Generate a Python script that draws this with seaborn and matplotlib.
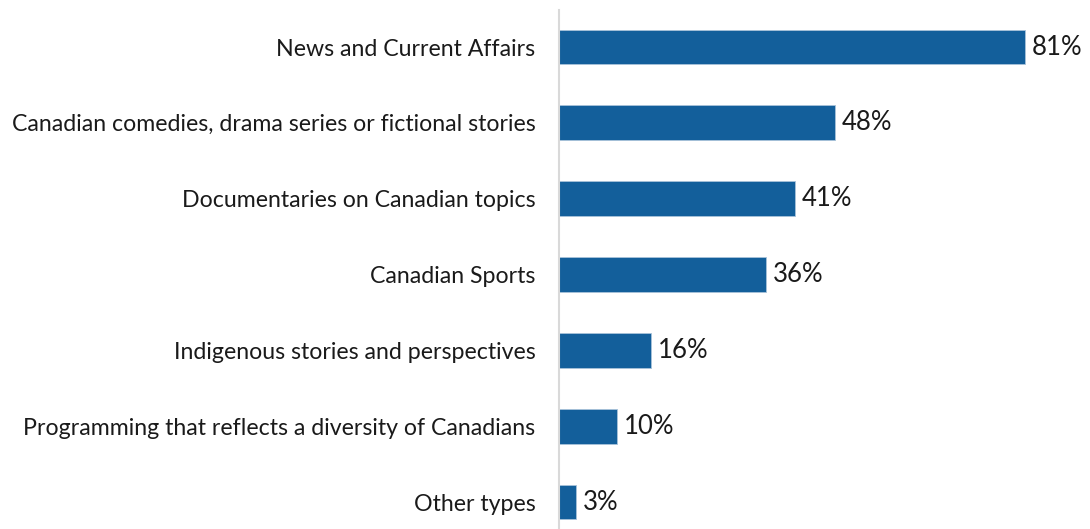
import matplotlib
matplotlib.use("Agg")
import matplotlib.pyplot as plt
import seaborn as sns
import pandas as pd

categories = [
    "News and Current Affairs",
    "Canadian comedies, drama series or fictional stories",
    "Documentaries on Canadian topics",
    "Canadian Sports",
    "Indigenous stories and perspectives",
    "Programming that reflects a diversity of Canadians",
    "Other types",
]
values = [81, 48, 41, 36, 16, 10, 3]

df = pd.DataFrame({"category": categories, "value": values})

sns.set_style("white")
plt.rcParams["font.family"] = ["Lato", "DejaVu Sans"]

fig = plt.figure(figsize=(10.9, 5.29), dpi=100)
ax = fig.add_axes([559 / 1090, 0.0, 531 / 1090, 519 / 529])

bar_color = "#135F9B"
sns.barplot(data=df, x="value", y="category", orient="h", color=bar_color,
            width=0.46, saturation=1, ax=ax, edgecolor="#a9c3da", linewidth=0.6)

ax.set_xlim(0, 531 / 5.753)
ax.set_ylim(6.356, -0.488)
ax.set_xlabel("")
ax.set_ylabel("")
ax.set_xticks([])
ax.tick_params(axis="y", length=0, pad=17, labelsize=16.7, labelcolor="#1a1a1a")

for s in ["top", "right", "bottom"]:
    ax.spines[s].set_visible(False)
ax.spines["left"].set_color("#d9d9d9")
ax.spines["left"].set_linewidth(1.5)

for i, v in enumerate(values):
    ax.annotate(f"{v}%", xy=(v, i), xytext=(5, 0), textcoords="offset points",
                va="center", ha="left", fontsize=18.5, color="#1a1a1a")

fig.savefig("out.png", dpi=100)
